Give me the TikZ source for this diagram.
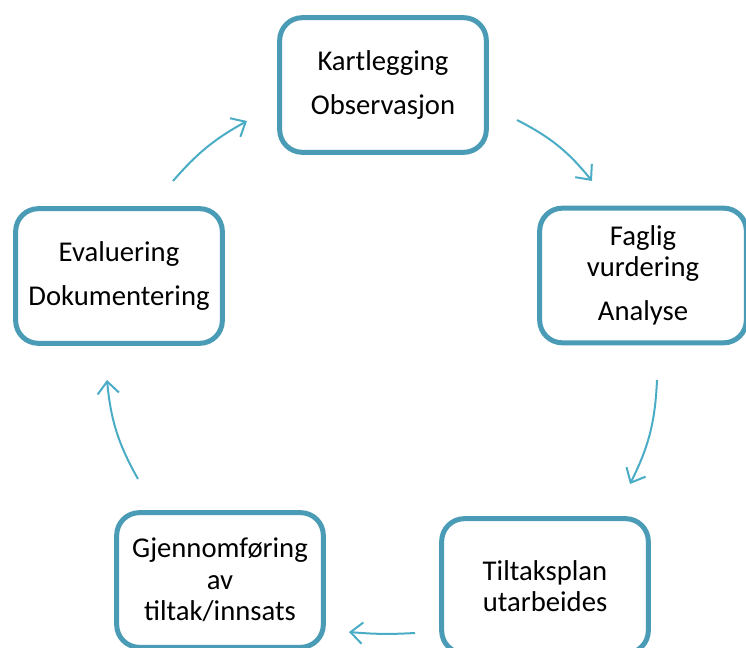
\documentclass[tikz,border=0pt]{standalone}
\usepackage{fontspec}
\setmainfont{Carlito}
\usetikzlibrary{arrows.meta}

\definecolor{boxblue}{RGB}{74,155,181}
\definecolor{arrowblue}{RGB}{75,172,198}

\tikzset{
  stage/.style={draw=boxblue, line width=3.75pt, rounded corners=17pt, fill=white,
    minimum width=155pt, minimum height=101pt, align=center,
    font=\fontsize{21.5}{23.5}\selectfont},
  cycle arrow/.style={draw=arrowblue, line width=1.5pt,
    -{Straight Barb[length=9pt,width=16pt,line width=1.5pt]}}
}

\begin{document}
\begin{tikzpicture}[x=0.75pt, y=-0.75pt]
  %\draw[help lines, step=50] (0,0) grid (746,648);
  \useasboundingbox (0,0) rectangle (746,648);

  \node [stage] (kartlegging) at (383,85) {Kartlegging\\[9.5pt]Observasjon};
  \node [stage] (faglig) at (643,275.5) {Faglig\\vurdering\\[9.5pt]Analyse};
  \node [stage] (tiltaksplan) at (545,586) {Tiltaksplan\\utarbeides};
  \node [stage] (gjennomforing) at (220,580) {Gjennomføring\\av\\tiltak/innsats};
  \node [stage] (evaluering) at (119,276) {Evaluering\\[9.5pt]Dokumentering};

  % free ends of the arrows round the cycle
  \coordinate (a1) at (517,120);
  \coordinate (b1) at (592,181);
  \coordinate (a2) at (657,380);
  \coordinate (b2) at (630,484);
  \coordinate (a3) at (415,633);
  \coordinate (b3) at (349,632);
  \coordinate (a4) at (138,479);
  \coordinate (b4) at (107,380);
  \coordinate (a5) at (173,181);
  \coordinate (b5) at (247,121);

  \draw [cycle arrow] (a1) to [bend left=12] (b1);
  \draw [cycle arrow] (a2) to [bend left=12] (b2);
  \draw [cycle arrow] (a3) to [bend left=4] (b3);
  \draw [cycle arrow] (a4) to [bend left=12] (b4);
  \draw [cycle arrow] (a5) to [bend left=10] (b5);

\end{tikzpicture}
\end{document}
